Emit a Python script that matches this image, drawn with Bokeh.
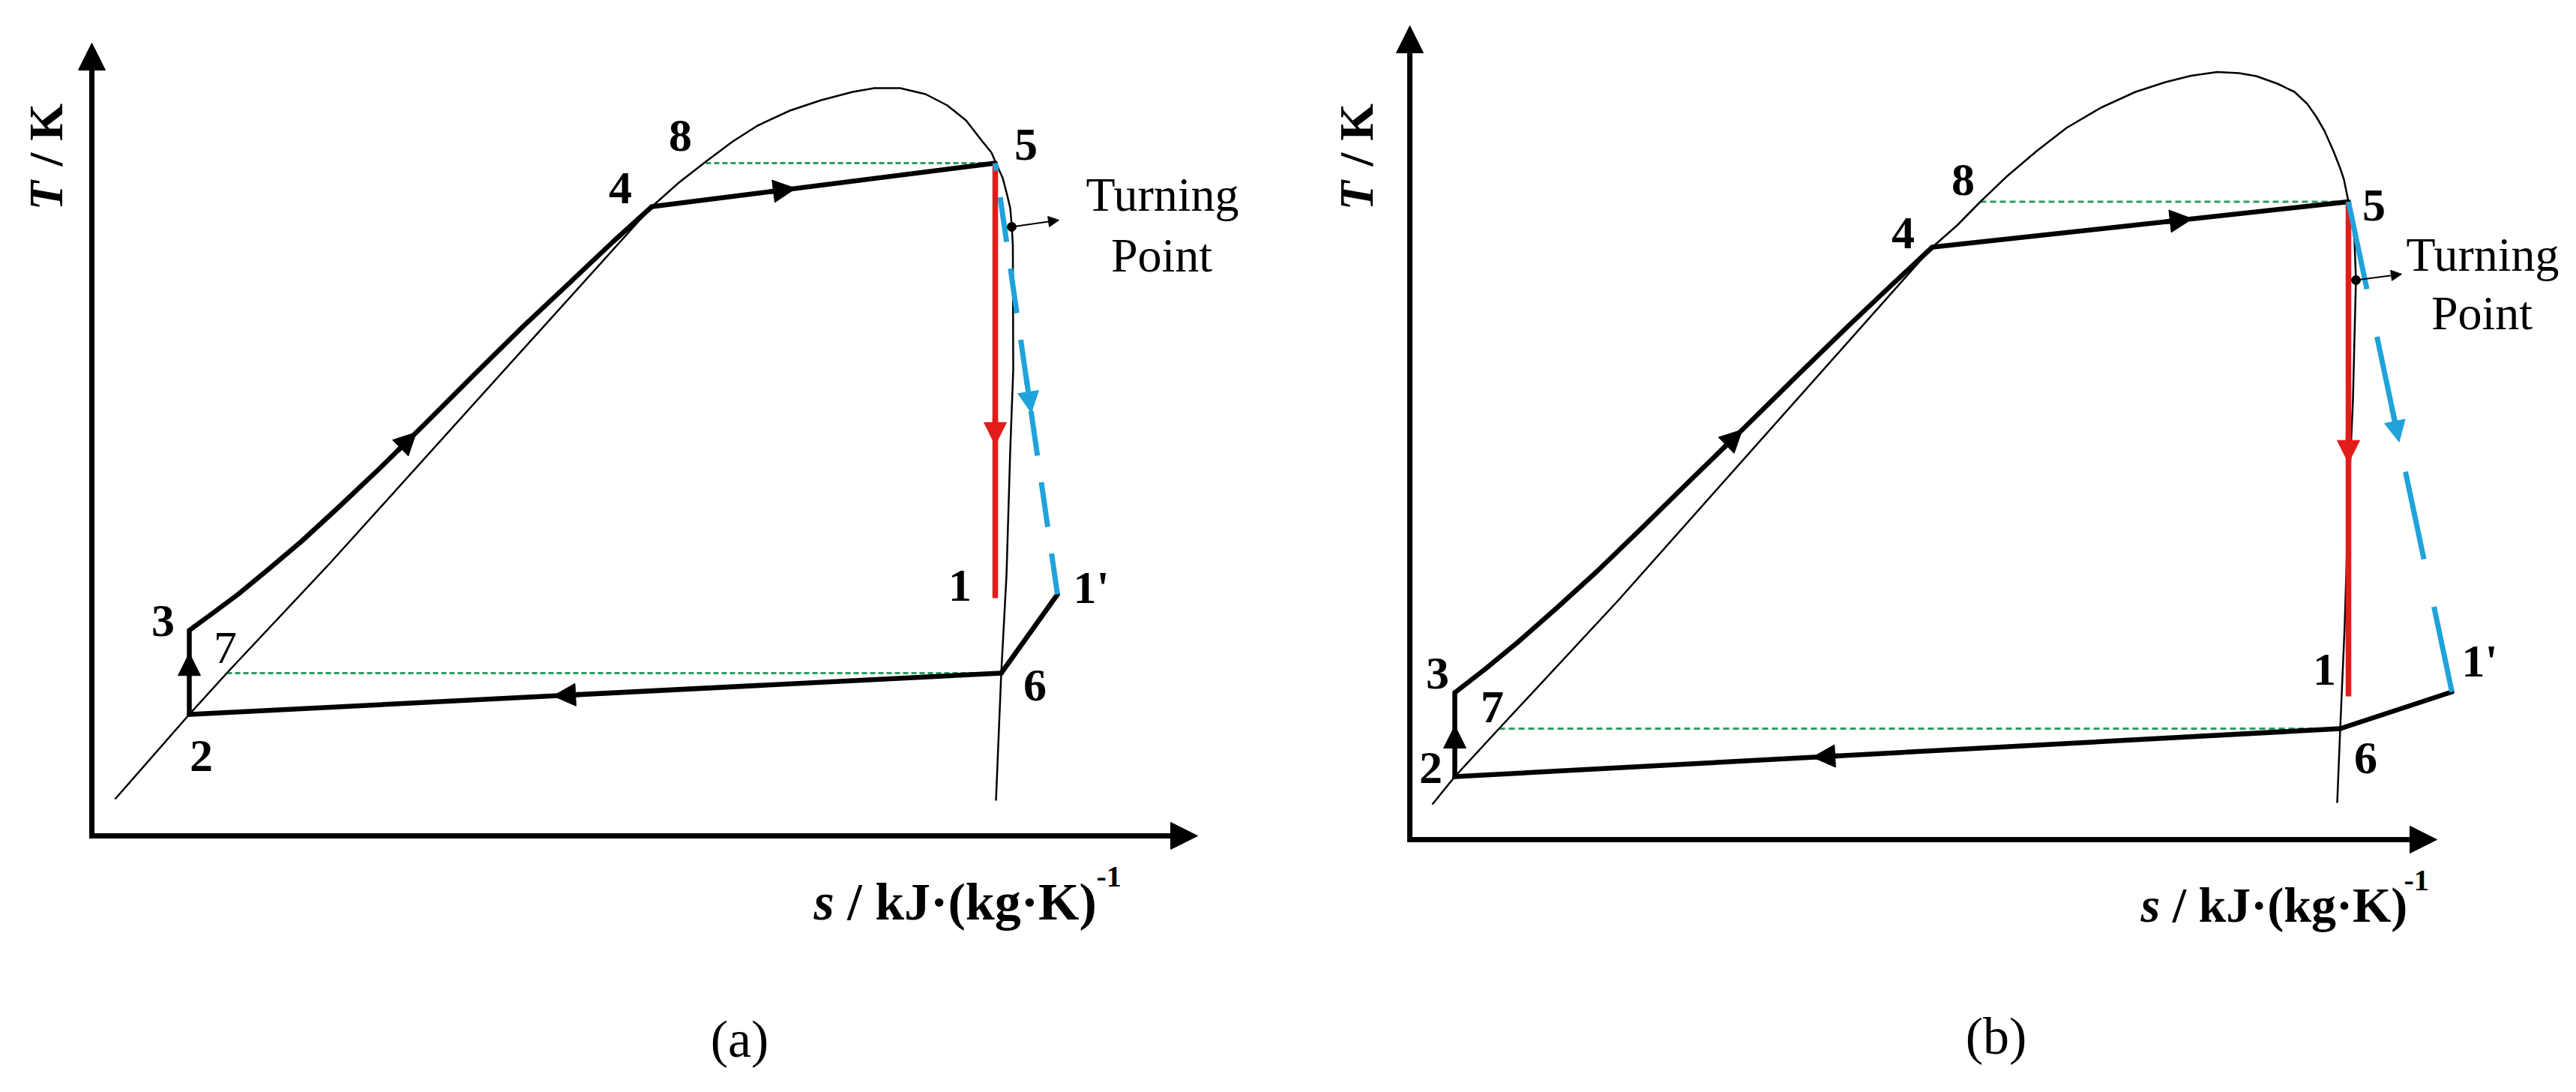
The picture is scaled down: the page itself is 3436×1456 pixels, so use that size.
import math
from bokeh.plotting import figure
from bokeh.models import Range1d, Arrow, NormalHead, ColumnDataSource
from bokeh.layouts import row
from bokeh.core.properties import value
from bokeh.embed import file_html
from bokeh.resources import INLINE

# ---------------- data : panel (a) ----------------
a_dome_s = [3.1, 13.0, 18.0, 31.8, 74.7, 78.3, 81.9, 85.5, 88.8, 93.1, 97.3, 101.5, 104.4, 107.8, 111.2,
            114.1, 116.6, 118.7, 120.0, 120.6, 121.5, 122.1, 122.5, 122.7, 122.85, 122.9, 122.5, 122.0,
            121.3, 120.6]
a_dome_T = [4.9, 16.2, 21.7, 36.4, 83.9, 87.1, 89.9, 92.6, 94.7, 96.7, 98.1, 99.2, 99.7, 99.7, 98.9,
            97.4, 95.4, 92.7, 91.1, 89.7, 87.7, 85.4, 83.7, 81.4, 78.7, 62.1, 51.4, 34.7, 21.7, 4.7]
a_heat_s = [13.0, 16.0, 19.5, 23.5, 28.0, 33.0, 38.5, 44.5, 51.0, 57.5, 64.0, 69.5, 74.7]
a_heat_T = [27.4, 29.6, 32.2, 35.5, 39.3, 43.9, 49.1, 55.0, 61.5, 67.9, 74.0, 79.2, 83.9]
a_state = ["1", "1'", "2", "3", "4", "5", "6", "7", "8"]
a_state_s = [120.5, 128.8, 13.0, 13.0, 74.7, 120.5, 121.3, 18.0, 81.9]
a_state_T = [31.7, 32.2, 16.2, 27.4, 83.9, 89.7, 21.7, 21.7, 89.7]
a_turn_s = [122.7]
a_turn_T = [81.2]

# ---------------- data : panel (b) ----------------
b_dome_s = [3.0, 6.0, 11.9, 27.8, 69.7, 73.0, 76.1, 79.6, 83.6, 87.6, 92.2, 96.8, 100.8, 104.2, 107.7,
            110.6, 112.9, 115.7, 118.0, 119.7, 120.9, 122.0, 123.2, 124.1, 124.6, 125.2, 125.7, 126.0,
            126.2, 126.0, 125.8, 125.5, 125.1, 124.7, 124.1, 123.7]
b_dome_T = [4.7, 8.4, 14.8, 31.9, 79.0, 81.9, 85.05, 88.4, 91.8, 94.9, 97.6, 99.7, 101.0, 101.85, 102.35,
            102.2, 101.8, 100.8, 99.7, 98.1, 96.4, 94.5, 91.8, 89.5, 88.0, 85.05, 82.5, 79.9,
            74.6, 66.9, 58.6, 51.9, 41.9, 28.6, 14.8, 4.9]
b_heat_s = [6.0, 10.0, 14.5, 19.5, 25.0, 31.0, 37.5, 44.5, 51.5, 58.5, 64.0, 69.7]
b_heat_T = [19.6, 22.7, 26.4, 30.8, 35.8, 41.6, 48.0, 54.8, 61.7, 68.5, 73.7, 79.0]
b_state = ["1", "1'", "2", "3", "4", "5", "6", "7", "8"]
b_state_s = [125.2, 139.0, 6.0, 6.0, 69.7, 125.2, 124.1, 11.9, 76.1]
b_state_T = [19.1, 19.7, 8.4, 19.6, 79.0, 85.05, 14.8, 14.8, 85.05]
b_turn_s = [126.2]
b_turn_T = [74.6]

FONT = "Liberation Serif"
BLACK = "#000000"
RED = "#E31B1B"
BLUE = "#1FA3DA"
GREEN = "#2E9B62"


def seg_arrow(p, A, B, f, color, lw, head, back):
    dx, dy = B[0] - A[0], B[1] - A[1]
    L = math.hypot(dx, dy)
    ux, uy = dx / L, dy / L
    tx, ty = A[0] + f * dx, A[1] + f * dy
    p.add_layout(Arrow(x_start=tx - back * ux, y_start=ty - back * uy, x_end=tx, y_end=ty,
                       line_color=color, line_width=lw,
                       end=NormalHead(size=head, fill_color=color, line_color=color, line_width=1)))


def texts(p, xs, ys, labels, size, style, align="center", baseline="middle", angle=0.0):
    src = ColumnDataSource(dict(x=xs, y=ys, t=labels))
    p.text(x="x", y="y", text="t", source=src, text_font=value(FONT),
           text_font_size=value(size), text_font_style=value(style),
           text_align=value(align), text_baseline=value(baseline), angle=angle,
           text_color=BLACK)


def panel(cfg):
    p = figure(width=1717, height=1454, x_range=Range1d(*cfg["xr"]), y_range=Range1d(*cfg["yr"]),
               output_backend="svg", toolbar_location=None, min_border=0,
               x_axis_type=None, y_axis_type=None, outline_line_color=None,
               background_fill_color="white", border_fill_color="white")
    st = dict(zip(cfg["names"], zip(cfg["s"], cfg["T"])))

    # axes with arrow heads
    p.add_layout(Arrow(x_start=-0.35, y_start=0, x_end=cfg["xtip"], y_end=0, line_width=7,
                       line_color=BLACK, end=NormalHead(size=36, fill_color=BLACK, line_color=BLACK)))
    p.add_layout(Arrow(x_start=0, y_start=-0.35, x_end=0, y_end=cfg["ytip"], line_width=7,
                       line_color=BLACK, end=NormalHead(size=36, fill_color=BLACK, line_color=BLACK)))

    # green isobar extensions
    for a, b in (("8", "5"), ("7", "6")):
        p.line([st[a][0], st[b][0]], [st[a][1], st[b][1]], line_color=GREEN, line_width=3,
               line_dash=cfg["gdash"])

    # saturation dome
    p.line(cfg["dome_s"], cfg["dome_T"], line_color=BLACK, line_width=2.5, line_join="round")

    # preheating curve 3 -> 4
    p.line(cfg["heat_s"], cfg["heat_T"], line_color=BLACK, line_width=6.5, line_join="round")

    # other cycle processes
    for a, b in (("2", "3"), ("4", "5"), ("1'", "6"), ("6", "2")):
        p.line([st[a][0], st[b][0]], [st[a][1], st[b][1]], line_color=BLACK, line_width=6.5,
               line_cap="round")

    # isentropic expansion (red) and real expansion (blue dashed)
    p.line([st["5"][0], st["1"][0]], [st["5"][1], st["1"][1]], line_color=RED, line_width=7.5)
    p.line([st["5"][0], st["1'"][0]], [st["5"][1], st["1'"][1]], line_color=BLUE, line_width=7,
           line_dash=cfg["bdash"], line_dash_offset=cfg["boff"])

    # direction arrows
    seg_arrow(p, st["4"], st["5"], cfg["f45"], BLACK, 6.5, 30, 3.5)
    seg_arrow(p, st["6"], st["2"], cfg["f62"], BLACK, 6.5, 30, 3.5)
    seg_arrow(p, st["2"], st["3"], cfg["f23"], BLACK, 6.5, 30, 3.0)
    seg_arrow(p, st["5"], st["1"], cfg["f51"], RED, 7.5, 30, 3.5)
    seg_arrow(p, st["5"], st["1'"], cfg["f51p"], BLUE, 7, 28, 4.5)
    hi, hf = cfg["fheat"]
    seg_arrow(p, (cfg["heat_s"][hi], cfg["heat_T"][hi]), (cfg["heat_s"][hi + 1], cfg["heat_T"][hi + 1]),
              hf, BLACK, 6.5, 30, 3.5)

    # turning point
    ts, tT = cfg["turn_s"][0], cfg["turn_T"][0]
    p.scatter([ts], [tT], size=12, color=BLACK)
    dx, dy = cfg["tp_off"]
    p.add_layout(Arrow(x_start=ts, y_start=tT, x_end=ts + dx, y_end=tT + dy, line_width=2,
                       line_color=BLACK, end=NormalHead(size=14, fill_color=BLACK, line_color=BLACK)))

    # state labels
    lab = cfg["labels"]
    bold = [k for k in lab if k not in cfg["normal"]]
    texts(p, [lab[k][0] for k in bold], [lab[k][1] for k in bold], bold, "62px", "bold")
    norm = [k for k in lab if k in cfg["normal"]]
    if norm:
        texts(p, [lab[k][0] for k in norm], [lab[k][1] for k in norm], norm, "62px", "normal")
    texts(p, [cfg["turning"][0], cfg["point"][0]], [cfg["turning"][1], cfg["point"][1]],
          ["Turning", "Point"], "64px", "normal")

    # axis titles
    xs, xT = cfg["xlab"]
    fs = cfg["xfont"]
    texts(p, [xs], [xT], ["s"], f"{fs}px", "bold italic", align="left", baseline="alphabetic")
    texts(p, [xs + 0.0639 * fs], [xT], ["/ kJ·(kg·K)"], f"{fs}px", "bold", align="left",
          baseline="alphabetic")
    texts(p, [cfg["sup"][0]], [cfg["sup"][1]], ["-1"], "40px", "bold", align="left", baseline="alphabetic")
    ys_, yT_ = cfg["ylab"]
    texts(p, [ys_], [yT_], ["T"], "64px", "bold italic", align="left", angle=math.pi / 2)
    texts(p, [ys_], [yT_ + 5.9], ["/ K"], "64px", "bold", align="left", angle=math.pi / 2)

    # panel tag
    texts(p, [cfg["tag_pos"][0]], [cfg["tag_pos"][1]], [cfg["tag"]], "70px", "normal")
    return p


cfg_a = dict(
    xr=(-12.2, 159.5), yr=(-34.0, 111.4), xtip=147.5, ytip=105.7,
    names=a_state, s=a_state_s, T=a_state_T,
    dome_s=a_dome_s, dome_T=a_dome_T, heat_s=a_heat_s, heat_T=a_heat_T,
    turn_s=a_turn_s, turn_T=a_turn_T, tp_off=(6.3, 0.9),
    gdash="7 4", bdash="60 36", boff=50,
    f45=0.419, f62=0.552, f23=0.73, f51=0.648, f51p=0.579, fheat=(6, 0.8),
    labels={"8": (78.5, 93.4), "5": (124.6, 92.2), "4": (70.5, 86.4), "3": (9.5, 28.7),
            "7": (17.8, 25.1), "2": (14.6, 10.7), "6": (125.8, 20.1), "1": (115.8, 33.4),
            "1'": (133.3, 33.2)},
    normal={"7"},
    turning=(142.8, 85.5), point=(142.7, 77.4),
    xlab=(96.3, -8.8), xfont=70, sup=(134.0, -5.4), ylab=(-6.1, 83.4),
    tag="(a)", tag_pos=(86.4, -27.1),
)

cfg_b = dict(
    xr=(-16.3, 155.4), yr=(-33.5, 111.9), xtip=137.0, ytip=108.5,
    names=b_state, s=b_state_s, T=b_state_T,
    dome_s=b_dome_s, dome_T=b_dome_T, heat_s=b_heat_s, heat_T=b_heat_T,
    turn_s=b_turn_s, turn_T=b_turn_T, tp_off=(6.1, 0.8),
    gdash="8 5", bdash="119 65", boff=0,
    f45=0.625, f62=0.596, f23=0.607, f51=0.528, f51p=0.490, fheat=(6, 0.98),
    labels={"8": (73.8, 88.0), "5": (128.6, 84.6), "4": (65.8, 80.9), "3": (3.7, 22.2),
            "7": (11.0, 17.7), "2": (2.8, 9.6), "6": (127.5, 10.9), "1": (122.0, 22.7),
            "1'": (142.7, 23.9)},
    normal=set(),
    turning=(143.1, 78.0), point=(143.0, 70.2),
    xlab=(97.5, -8.7), xfont=66, sup=(132.6, -5.4), ylab=(-7.1, 83.9),
    tag="(b)", tag_pos=(78.2, -26.2),
)

layout = row(panel(cfg_a), panel(cfg_b))
open("out.html", "w").write(file_html(layout, INLINE))
